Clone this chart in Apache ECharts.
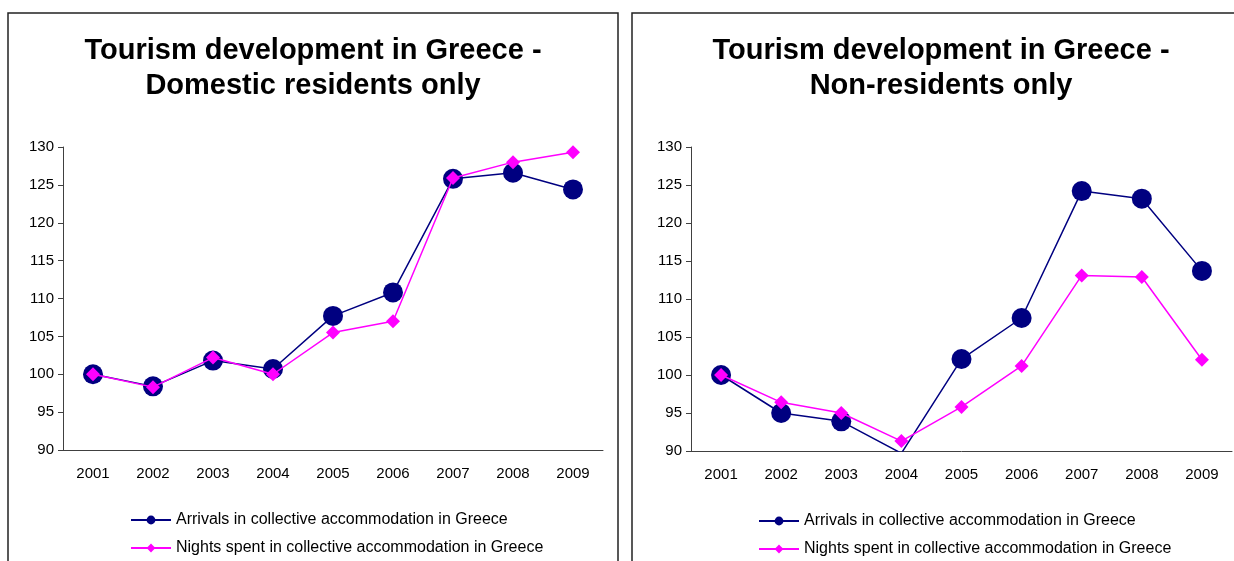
<!DOCTYPE html>
<html>
<head>
<meta charset="utf-8">
<title>Tourism development in Greece</title>
<script src="https://cdn.jsdelivr.net/npm/echarts@6/dist/echarts.min.js"></script>
<style>
  html, body { margin: 0; padding: 0; background: #fff; }
  #chart { width: 1234px; height: 561px; }
</style>
</head>
<body>
<div id="chart"></div>
<script>
// Index values (2001 = 100)
const years = ['2001', '2002', '2003', '2004', '2005', '2006', '2007', '2008', '2009'];
const domesticArrivals = [100, 98.4, 101.8, 100.7, 107.7, 110.8, 125.8, 126.6, 124.4];
const domesticNights   = [100, 98.3, 102.2, 100.0, 105.5, 107.0, 125.9, 128.0, 129.3];
const foreignArrivals  = [100, 95.0, 93.9, 89.7, 102.1, 107.5, 124.2, 123.2, 113.7];
const foreignNights    = [100, 96.4, 95.0, 91.3, 95.8, 101.2, 113.1, 112.9, 102.0];

const arrivalsName = 'Arrivals in collective accommodation in Greece';
const nightsName = 'Nights spent in collective accommodation in Greece';
const titles = ['Tourism development in Greece -\nDomestic residents only',
                'Tourism development in Greece -\nNon-residents only'];

const FONT = "'Liberation Sans', Arial, sans-serif";
const NAVY = '#000080';
const MAGENTA = '#FF00FF';
const AXIS = '#404040';

function xAxis(gridIndex) {
  return {
    type: 'category', gridIndex, data: years, boundaryGap: true,
    axisLine: { lineStyle: { color: AXIS, width: 1 } },
    axisTick: { length: 5, lineStyle: { color: AXIS } },
    axisLabel: { color: '#000', fontFamily: FONT, fontSize: 15, margin: 16 },
    splitLine: { show: false }
  };
}
function yAxis(gridIndex) {
  return {
    type: 'value', gridIndex, min: 90, max: 130, interval: 5,
    axisLine: { show: true, lineStyle: { color: AXIS, width: 1 } },
    axisTick: { show: true, length: 5, lineStyle: { color: AXIS } },
    axisLabel: { color: '#000', fontFamily: FONT, fontSize: 15, margin: 9 },
    splitLine: { show: false }
  };
}
function arrivalsSeries(idx, values) {
  return {
    name: arrivalsName, type: 'line', xAxisIndex: idx, yAxisIndex: idx,
    data: values, symbol: 'circle', symbolSize: 20,
    lineStyle: { color: NAVY, width: 1.5 }, itemStyle: { color: NAVY },
    animation: false, z: 2
  };
}
function nightsSeries(idx, values) {
  return {
    name: nightsName, type: 'line', xAxisIndex: idx, yAxisIndex: idx,
    data: values, symbol: 'diamond', symbolSize: 14,
    lineStyle: { color: MAGENTA, width: 1.5 }, itemStyle: { color: MAGENTA },
    animation: false, z: 3
  };
}
function legend(left, top) {
  return {
    left, top, height: 80, padding: 0, orient: 'vertical',
    itemWidth: 40, itemHeight: 11, itemGap: 12,
    textStyle: { color: '#000', fontFamily: FONT, fontSize: 16, lineHeight: 16 },
    data: [arrivalsName, nightsName], selectedMode: false
  };
}

const chart = echarts.init(document.getElementById('chart'), null, { renderer: 'canvas' });
chart.setOption({
  backgroundColor: '#fff',
  animation: false,
  graphic: [
    { type: 'rect', shape: { x: 8, y: 13, width: 610, height: 600 },
      style: { fill: 'none', stroke: '#222', lineWidth: 1.5 }, z: -1 },
    { type: 'rect', shape: { x: 632, y: 13, width: 640, height: 600 },
      style: { fill: 'none', stroke: '#222', lineWidth: 1.5 }, z: -1 }
  ],
  title: [
    { text: titles[0], left: 313, top: 33, textAlign: 'center', padding: 0,
      textStyle: { fontFamily: FONT, fontSize: 29, fontWeight: 'bold', color: '#000', lineHeight: 35 } },
    { text: titles[1], left: 941, top: 33, textAlign: 'center', padding: 0,
      textStyle: { fontFamily: FONT, fontSize: 29, fontWeight: 'bold', color: '#000', lineHeight: 35 } }
  ],
  legend: [legend(130, 512), legend(758, 513)],
  grid: [
    { left: 63, top: 147, width: 540, height: 303 },
    { left: 691, top: 147, width: 541, height: 304 }
  ],
  xAxis: [xAxis(0), xAxis(1)],
  yAxis: [yAxis(0), yAxis(1)],
  series: [
    arrivalsSeries(0, domesticArrivals),
    nightsSeries(0, domesticNights),
    arrivalsSeries(1, foreignArrivals),
    nightsSeries(1, foreignNights)
  ]
});
</script>
</body>
</html>
